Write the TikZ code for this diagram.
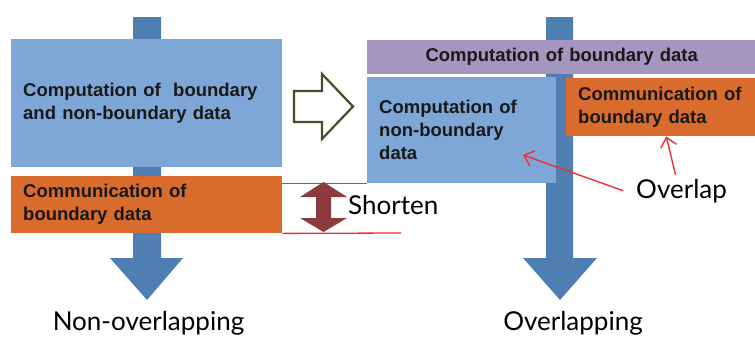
\documentclass[tikz,border=0pt]{standalone}
\usepackage{fontspec}
\setmainfont{Liberation Sans}
\newfontfamily\labelfont{Lato}
\usetikzlibrary{arrows.meta}

\definecolor{stemblue}{HTML}{4F7EB3}
\definecolor{compblue}{HTML}{7EA7D7}
\definecolor{commorange}{HTML}{D96B2C}
\definecolor{bndpurple}{HTML}{A397BF}
\definecolor{shortred}{HTML}{8C3A3E}
\definecolor{hollowline}{HTML}{4A4A2F}
\definecolor{markred}{HTML}{EE3030}

\tikzset{
  box/.style={anchor=north west, inner xsep=12pt, inner ysep=0pt, align=left,
    font=\bfseries\fontsize{18.5}{23}\selectfont, text=black!90},
  flow/.style={fill=stemblue, draw=none},
  marker/.style={draw=markred, line width=1.3pt},
  pointer/.style={draw=markred, line width=1.4pt, -{Straight Barb[length=9pt,width=16pt]}},
  caption/.style={font=\labelfont\fontsize{26}{30}\selectfont, inner sep=0pt}
}

\begin{document}
\begin{tikzpicture}[x=1pt, y=-1pt]
\useasboundingbox (0,0) rectangle (755,338);
%
% non-overlapping versus overlapping communication

%% time flow
\draw[flow] (133,17) -- (161,17) -- (161,258) -- (183,258) -- (147,300) -- (110,258) -- (133,258) -- cycle;
\draw[flow] (546,17) -- (573,17) -- (573,258) -- (597,258) -- (560,300) -- (523,258) -- (546,258) -- cycle;

%% left column
\node[box, fill=compblue, text width=247pt, minimum height=128pt] (lcomp) at (11,39)
  {Computation of \ boundary\\and non-boundary data};
\node[box, fill=commorange, text width=247pt, minimum height=57pt] (lcomm) at (11,176)
  {Communication of\\boundary data};

%% right column
\node[box, fill=bndpurple, align=center, text width=365pt, minimum height=34pt] (rbnd) at (367,40)
  {Computation of boundary data};
\node[box, fill=compblue, text width=165pt, minimum height=106pt] (rcomp) at (367,77)
  {Computation of\\non-boundary\\data};
\node[box, fill=commorange, text width=170pt, minimum height=58pt] (rcomm) at (566,78)
  {Communication of\\boundary data};

%% hollow arrow
\draw[hollowline, line width=2.2pt, fill=white] (294,91) -- (322,91) -- (322,74) -- (353,106.5)
  -- (322,139) -- (322,122) -- (294,122) -- cycle;

%% shorten
\coordinate (lineend) at (401,233);
\draw[marker] (lcomm.east |- rcomp.south) -- (rcomp.south west);
\draw[marker] (lcomm.south east) -- (lineend);
\fill[shortred] (323.5,182) -- (347,197) -- (331,197) -- (331,218) -- (347,218) -- (323.5,232)
  -- (300,218) -- (316,218) -- (316,197) -- (300,197) -- cycle;
\node[caption, anchor=base west] (shorten) at (348,214) {Shorten};

%% overlap
\node[caption, anchor=base west] (overlap) at (636,198) {Overlap};
\coordinate (nbtarget) at (523,155);
\draw[pointer] ([xshift=-13pt]overlap.west) -- (nbtarget);
\draw[pointer] ([xshift=-6pt, yshift=4pt]overlap.north) -- ([xshift=3pt]rcomm.south);

%% captions
\node[caption, anchor=base] (nonover) at (148.5,330) {Non-overlapping};
\node[caption, anchor=base] (over) at (573,330) {Overlapping};
\end{tikzpicture}
\end{document}
